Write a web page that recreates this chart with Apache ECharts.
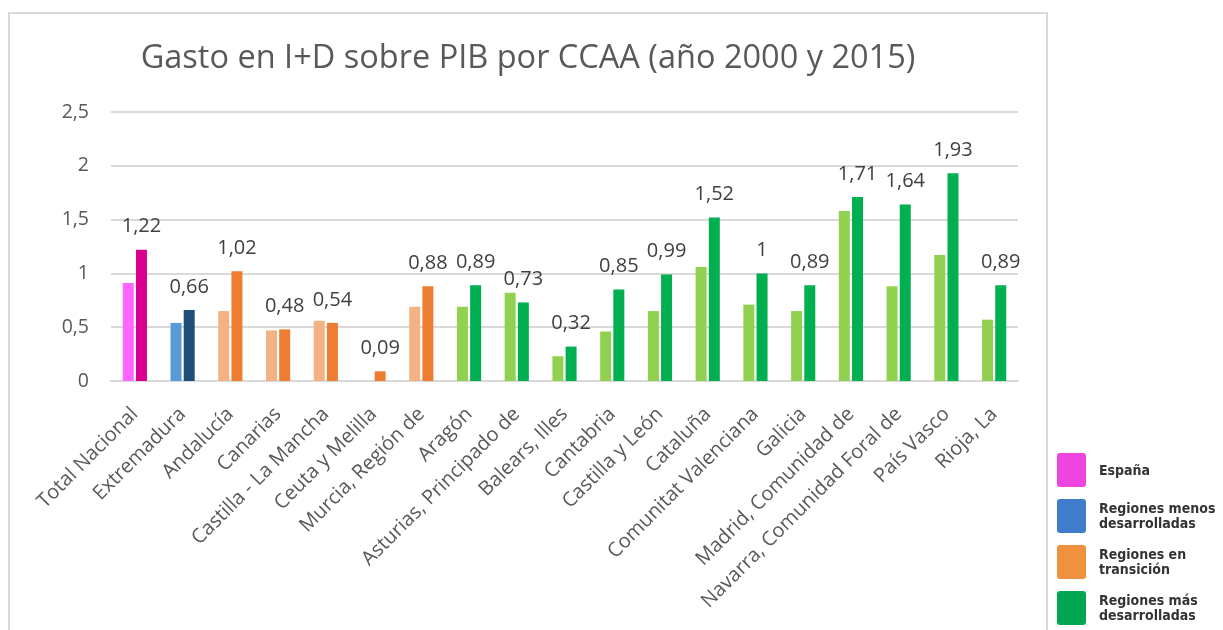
<!DOCTYPE html>
<html><head><meta charset="utf-8">
<script src="https://cdn.jsdelivr.net/npm/echarts@6/dist/echarts.min.js"></script>
<style>html,body{margin:0;padding:0;background:#fff}#c{width:1223px;height:630px}</style>
</head><body><div id="c"></div>
<script>
const categories = ['Total Nacional','Extremadura','Andalucía','Canarias','Castilla - La Mancha','Ceuta y Melilla','Murcia, Región de','Aragón','Asturias, Principado de','Balears, Illes','Cantabria','Castilla y León','Cataluña','Comunitat Valenciana','Galicia','Madrid, Comunidad de','Navarra, Comunidad Foral de','País Vasco','Rioja, La'];
const groupOf = [0,1,2,2,2,2,2,3,3,3,3,3,3,3,3,3,3,3,3];
const values2000 = [0.91,0.54,0.65,0.47,0.56,null,0.69,0.69,0.82,0.23,0.46,0.65,1.06,0.71,0.65,1.58,0.88,1.17,0.57];
const values2015 = [1.22,0.66,1.02,0.48,0.54,0.09,0.88,0.89,0.73,0.32,0.85,0.99,1.52,1,0.89,1.71,1.64,1.93,0.89];
const lightColors = ['#FF66FF','#5B9BD5','#F4B183','#92D050'];
const darkColors = ['#D9008F','#1F4E79','#ED7D31','#00B050'];
const groupNames = ['España','Regiones menos\ndesarrolladas','Regiones en\ntransición','Regiones más\ndesarrolladas'];
const legendColors = ['#EE44E0','#3F7CCB','#F0913F','#00A651'];
const titleText = 'Gasto en I+D sobre PIB por CCAA (año 2000 y 2015)';

const FONT = '"Open Sans", "Noto Sans", sans-serif';
const comma = v => String(v).replace('.', ',');

const legendGraphics = [];
groupNames.forEach((name, i) => {
  const y0 = 453 + i * 46;
  legendGraphics.push({type:'rect', shape:{x:1057, y:y0, width:29, height:34, r:3}, style:{fill:legendColors[i]}});
  legendGraphics.push({type:'text', x:1099, y:y0 + 18, style:{text:name, fill:'#333', font:'bold 14px "Liberation Sans Narrow", "DejaVu Sans Condensed", sans-serif', textVerticalAlign:'middle', lineHeight:15}});
});

const chart = echarts.init(document.getElementById('c'), null, {renderer:'canvas'});
chart.setOption({
  animation: false,
  backgroundColor: '#fff',
  textStyle: {fontFamily: FONT},
  grid: {left:111, right:205, top:112, bottom:249, containLabel:false},
  graphic: [
    {type:'rect', shape:{x:9, y:13, width:1038, height:640}, style:{fill:'none', stroke:'#D9D9D9', lineWidth:2}, silent:true},
    {type:'text', x:528, y:59, style:{text:titleText, fill:'#595959', font:'32.5px ' + FONT, textAlign:'center', textVerticalAlign:'middle'}},
    ...legendGraphics
  ],
  xAxis: {
    type:'category', data:categories,
    axisLine:{show:true, lineStyle:{color:'#D9D9D9', width:2}},
    axisTick:{show:false},
    axisLabel:{interval:0, rotate:45, fontSize:20, color:'#595959', margin:30, fontFamily:FONT}
  },
  yAxis: {
    type:'value', min:0, max:2.5, interval:0.5,
    axisLine:{show:false}, axisTick:{show:false},
    splitLine:{lineStyle:{color:'#D9D9D9', width:2}},
    axisLabel:{fontSize:19.5, color:'#595959', margin:22, formatter: v => comma(v), fontFamily:FONT}
  },
  series: [
    {name:'2000', type:'bar', barWidth:11, barGap:'20%',
     data: values2000.map((v,i) => ({value:v, itemStyle:{color:lightColors[groupOf[i]]}}))},
    {name:'2015', type:'bar', barWidth:11, barGap:'20%',
     data: values2015.map((v,i) => ({value:v, itemStyle:{color:darkColors[groupOf[i]]}})),
     label:{show:true, position:'top', distance:13, fontSize:20, color:'#404040', fontFamily:FONT, formatter: p => comma(p.value)}}
  ]
});
</script></body></html>
